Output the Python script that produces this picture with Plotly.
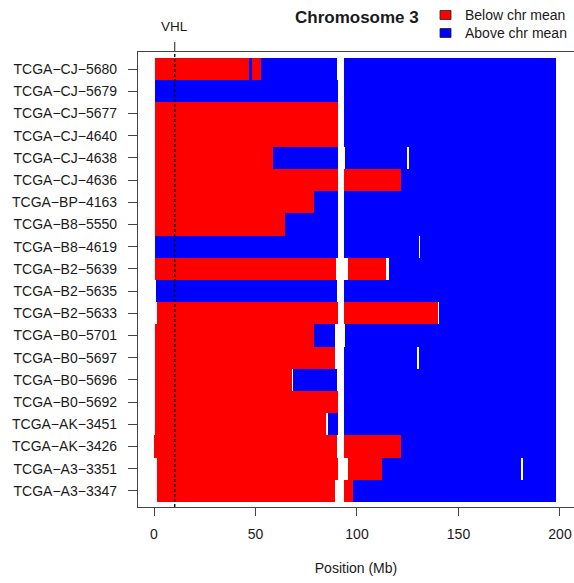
import plotly.graph_objects as go

# ---- data ----
samples = ["TCGA−CJ−5680", "TCGA−CJ−5679", "TCGA−CJ−5677", "TCGA−CJ−4640",
           "TCGA−CJ−4638", "TCGA−CJ−4636", "TCGA−BP−4163", "TCGA−B8−5550",
           "TCGA−B8−4619", "TCGA−B2−5639", "TCGA−B2−5635", "TCGA−B2−5633",
           "TCGA−B0−5701", "TCGA−B0−5697", "TCGA−B0−5696", "TCGA−B0−5692",
           "TCGA−AK−3451", "TCGA−AK−3426", "TCGA−A3−3351", "TCGA−A3−3347"]

# segment table: sample index (0 = top row), start Mb, end Mb, state
seg_sample = [0, 0, 0, 0, 0,
              1, 1,
              2, 2,
              3, 3,
              4, 4, 4, 4,
              5, 5, 5,
              6, 6, 6,
              7, 7, 7,
              8, 8, 8,
              9, 9, 9,
              10, 10,
              11, 11, 11,
              12, 12, 12,
              13, 13, 13,
              14, 14, 14,
              15, 15,
              16, 16, 16,
              17, 17, 17,
              18, 18, 18, 18,
              19, 19, 19]
seg_start = [0.5, 46.9, 48.3, 52.7, 93.6,
             0.5, 93.6,
             0.5, 93.6,
             0.5, 93.6,
             0.5, 58.6, 94.1, 125.6,
             0.5, 93.6, 121.7,
             0.5, 78.8, 93.6,
             0.5, 64.5, 93.6,
             0.5, 93.6, 131.0,
             0.5, 95.6, 115.8,
             1.0, 93.6,
             1.5, 93.6, 140.4,
             0.5, 78.8, 94.1,
             0.5, 93.6, 130.5,
             0.5, 68.5, 93.6,
             0.5, 93.6,
             0.5, 85.7, 93.6,
             0.0, 93.6, 121.7,
             1.5, 95.6, 112.3, 181.8,
             1.5, 93.6, 98.0]
seg_end = [46.9, 48.3, 52.7, 90.0, 198.0,
           90.6, 198.0,
           90.6, 198.0,
           90.6, 198.0,
           58.6, 90.6, 124.6, 198.0,
           90.6, 121.7, 198.0,
           78.8, 90.6, 198.0,
           64.5, 90.6, 198.0,
           90.6, 130.5, 198.0,
           89.7, 114.3, 198.0,
           90.1, 198.0,
           90.6, 139.9, 198.0,
           78.8, 89.2, 198.0,
           89.2, 129.6, 198.0,
           68.0, 90.1, 198.0,
           90.6, 198.0,
           84.7, 90.6, 198.0,
           90.1, 121.7, 198.0,
           90.6, 112.3, 180.8, 198.0,
           89.2, 98.0, 198.0]
seg_state = ["B", "A", "B", "A", "A",
             "A", "A",
             "B", "A",
             "B", "A",
             "B", "A", "A", "A",
             "B", "B", "A",
             "B", "A", "A",
             "B", "A", "A",
             "A", "A", "A",
             "B", "B", "A",
             "A", "A",
             "B", "B", "A",
             "B", "A", "A",
             "B", "A", "A",
             "B", "A", "A",
             "B", "A",
             "B", "A", "A",
             "B", "B", "A",
             "B", "B", "A", "A",
             "B", "B", "A"]

vhl_pos = 10.2
x_ticks = [0, 50, 100, 150, 200]

n = len(samples)
row_y = {i: n - i for i in range(n)}  # top row highest

fig = go.Figure()
for state, color, name in [("B", "#FF0000", "Below chr mean"), ("A", "#0000FF", "Above chr mean")]:
    ys, bases, lens = [], [], []
    for s, a, b, st in zip(seg_sample, seg_start, seg_end, seg_state):
        if st == state:
            ys.append(row_y[s])
            bases.append(a)
            lens.append(b - a)
    fig.add_trace(go.Bar(orientation="h", y=ys, x=lens, base=bases, width=1.0,
                         marker=dict(color=color, line=dict(width=0)),
                         name=name, showlegend=False, hoverinfo="skip"))

axis_col = "#444444"
txt_col = "#1a1a1a"
fig.update_layout(
    width=574, height=583,
    margin=dict(l=138, r=0, t=52, b=76),
    plot_bgcolor="white", paper_bgcolor="white",
    barmode="overlay", bargap=0,
    font=dict(family="Liberation Sans, Arial, sans-serif", size=14, color=txt_col),
    xaxis=dict(range=[-7.88, 206.9], tickvals=x_ticks, ticks="outside", ticklen=8,
               tickcolor=axis_col, tickwidth=1, showline=True, linecolor=axis_col,
               linewidth=1.3, mirror=True, showgrid=False, zeroline=False,
               tickfont=dict(size=14),
               title=dict(text="Position (Mb)", standoff=22, font=dict(size=14)),
               ticklabelstandoff=6),
    yaxis=dict(range=[0.279, 20.766], tickvals=[row_y[i] for i in range(n)],
               ticktext=samples, ticks="outside", ticklen=9, tickcolor=axis_col,
               tickwidth=1, showline=True, linecolor=axis_col, linewidth=1.3,
               showgrid=False, zeroline=False, ticklabelstandoff=8,
               tickfont=dict(size=14)),
)


def py(ypix):
    return (507 - ypix) / 455.0


def px(xpix):
    return (xpix - 138) / 436.0


# VHL marker
fig.add_shape(type="line", xref="x", yref="paper", x0=vhl_pos, x1=vhl_pos, y0=0, y1=1,
              line=dict(color="#111111", width=1.5, dash="3px,2px"))
fig.add_shape(type="line", xref="x", yref="paper", x0=vhl_pos, x1=vhl_pos, y0=1, y1=py(42),
              line=dict(color=axis_col, width=1.2))
fig.add_annotation(x=vhl_pos, xref="x", y=py(27), yref="paper", text="VHL", showarrow=False,
                   font=dict(size=13.5, color=txt_col), xanchor="center", yanchor="middle")

# title
fig.add_annotation(xref="paper", yref="paper", x=px(357), y=py(17),
                   text="<b>Chromosome 3</b>", showarrow=False,
                   xanchor="center", yanchor="middle",
                   font=dict(size=17, color=txt_col))

# legend (manual)
for yc, color, label in [(15, "#FF0000", "Below chr mean"), (33, "#0000FF", "Above chr mean")]:
    fig.add_shape(type="rect", xref="paper", yref="paper", x0=px(440), x1=px(451),
                  y0=py(yc + 4.5), y1=py(yc - 4.5), fillcolor=color,
                  line=dict(color="#222222", width=0.8))
    fig.add_annotation(xref="paper", yref="paper", x=px(463), y=py(yc), text=label,
                       showarrow=False, xanchor="left", yanchor="middle",
                       font=dict(size=14, color=txt_col))

fig.write_html("out.html")
